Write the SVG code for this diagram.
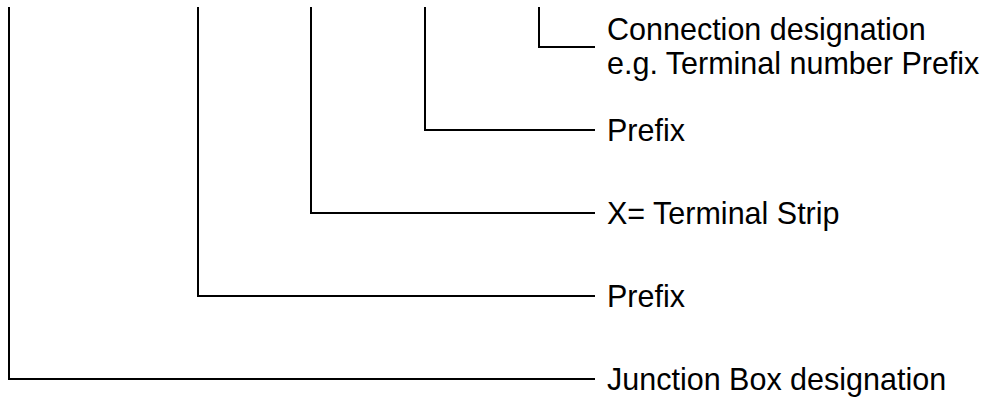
<svg xmlns="http://www.w3.org/2000/svg" width="995" height="400" viewBox="0 0 995 400">
<style>
.c{fill:none;stroke:#000;stroke-width:2}
.t{font-family:"Liberation Sans",Arial,sans-serif;font-size:30.5px;fill:#000}
</style>
<rect width="995" height="400" fill="#fff"/>
<g id="connectors">
<polyline class="c" points="9,7 9,379 595,379"/>
<polyline class="c" points="198,7 198,296 595,296"/>
<polyline class="c" points="311,7 311,213 595,213"/>
<polyline class="c" points="425,7 425,130 595,130"/>
<polyline class="c" points="539,7 539,47 595,47"/>
</g>
<g id="connection"><text class="t" x="607" y="40">Connection designation</text><text class="t" x="607" y="74">e.g. Terminal number Prefix</text></g>
<g id="prefix1"><text class="t" x="607" y="141">Prefix</text></g>
<g id="strip"><text class="t" x="607" y="224">X= Terminal Strip</text></g>
<g id="prefix2"><text class="t" x="607" y="307">Prefix</text></g>
<g id="junction"><text class="t" x="607" y="390">Junction Box designation</text></g>
</svg>
